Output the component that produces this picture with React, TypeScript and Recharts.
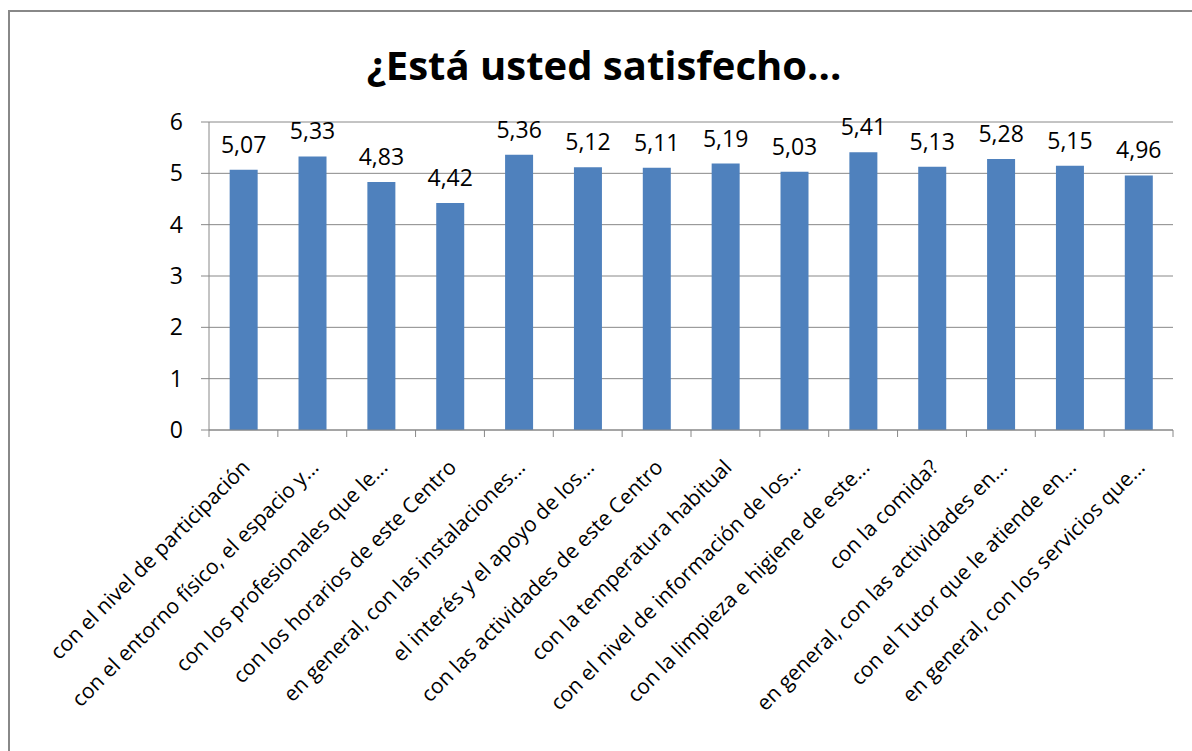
import { BarChart, Bar, XAxis, YAxis, CartesianGrid, LabelList } from "recharts";

const title = "¿Está usted satisfecho...";

const categories = [
  "con el nivel de participación",
  "con el entorno físico, el espacio y...",
  "con los profesionales que le...",
  "con los horarios de este Centro",
  "en general, con las instalaciones...",
  "el interés y el apoyo de los...",
  "con las actividades de este Centro",
  "con la temperatura habitual",
  "con el nivel de información de los...",
  "con la limpieza e higiene de este...",
  "con la comida?",
  "en general, con las actividades en...",
  "con el Tutor que le atiende en...",
  "en general, con los servicios que...",
];

const values = [5.07, 5.33, 4.83, 4.42, 5.36, 5.12, 5.11, 5.19, 5.03, 5.41, 5.13, 5.28, 5.15, 4.96];

const yTicks = [0, 1, 2, 3, 4, 5, 6];

const data = categories.map((name, i) => ({ name, value: values[i] }));

const W = 1192;
const H = 751;
const FONT = "'Open Sans', sans-serif";
const FS = 23;
const CAT_FS = 21;
const GRAY = "#888888";
const BLUE = "#4F81BD";

// plot area in page pixels
const LEFT = 209;
const TOP = 122;
const RIGHT = 1173;
const BOTTOM = 430;
const BAND = (RIGHT - LEFT) / categories.length;

const fmt = (v: any) => Number(v).toFixed(2).replace(".", ",");

function CategoryTick(props: any) {
  const { x, y, payload, index } = props;
  const lx = x + 2;
  const ly = y + 33;
  return (
    <g>
      <line x1={x - BAND / 2} y1={y} x2={x - BAND / 2} y2={y + 7} stroke={GRAY} />
      {index === categories.length - 1 && (
        <line x1={x + BAND / 2} y1={y} x2={x + BAND / 2} y2={y + 7} stroke={GRAY} />
      )}
      <text
        x={lx}
        y={ly}
        textAnchor="end"
        dominantBaseline="central"
        transform={`rotate(-45 ${lx} ${ly})`}
        fontSize={CAT_FS}
        fontFamily={FONT}
        fill="#000"
      >
        {payload.value}
      </text>
    </g>
  );
}

export default function App() {
  return (
    <div
      style={{
        position: "absolute",
        left: 0,
        top: 0,
        width: W,
        height: H,
        overflow: "hidden",
        background: "#fff",
      }}
    >
      <div
        style={{
          position: "absolute",
          left: 8,
          top: 10,
          width: 1300,
          height: 900,
          border: `2px solid ${GRAY}`,
          boxSizing: "border-box",
        }}
      />
      <svg width={W} height={110} style={{ position: "absolute", left: 0, top: 0 }}>
        <text
          x={604}
          y={80}
          textAnchor="middle"
          fontSize={40}
          fontWeight={700}
          fontFamily={FONT}
          fill="#000"
        >
          {title}
        </text>
      </svg>
      <div style={{ position: "absolute", left: 0, top: 0 }}>
        <BarChart
          width={W}
          height={H}
          data={data}
          margin={{ top: TOP, right: W - RIGHT, bottom: 0, left: 0 }}
          barCategoryGap="30%"
        >
          <CartesianGrid vertical={false} stroke={GRAY} />
          <XAxis
            dataKey="name"
            height={H - BOTTOM}
            interval={0}
            tickLine={false}
            tickSize={0}
            tickMargin={0}
            stroke={GRAY}
            tick={<CategoryTick />}
          />
          <YAxis
            width={LEFT}
            domain={[0, 6]}
            ticks={yTicks}
            tickSize={8}
            tickMargin={18}
            stroke={GRAY}
            tick={{ fontSize: FS, fill: "#000", fontFamily: FONT }}
          />
          <Bar dataKey="value" fill={BLUE} isAnimationActive={false}>
            <LabelList
              dataKey="value"
              position="top"
              offset={17}
              formatter={fmt}
              style={{ fontSize: FS, fill: "#000", fontFamily: FONT }}
            />
          </Bar>
        </BarChart>
      </div>
    </div>
  );
}
